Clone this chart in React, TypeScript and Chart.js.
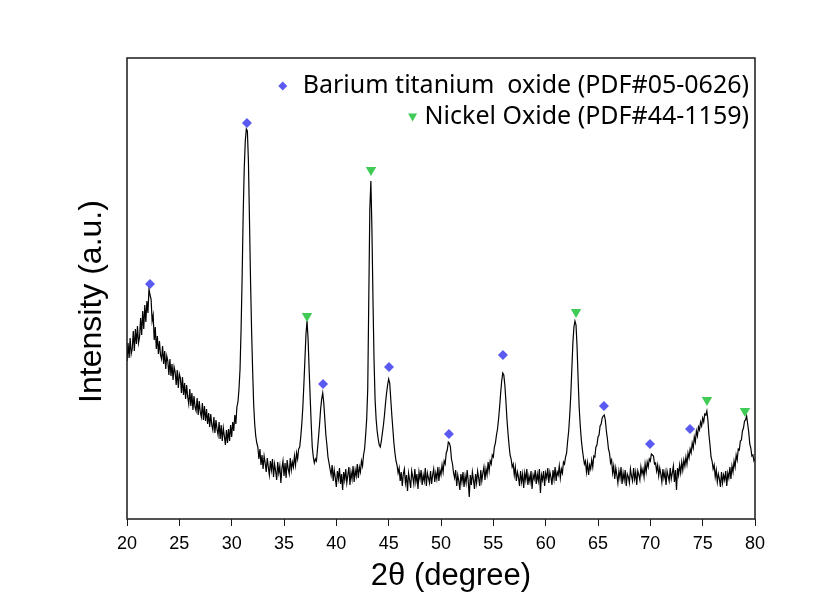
import React, { useEffect, useRef } from "react";
import { Chart, registerables } from "chart.js";

Chart.register(...registerables);

// 2θ grid: 20.0 → 80.0 in 0.1° steps
const ANGLE_START = 20;
const ANGLE_STEP = 0.1;

// Measured intensity (a.u.), one row per degree (x.0 … x.9)
const INTENSITY: number[] = [
  158, 176, 161, 181, 165, 170, 188, 168, 190, 175, // 20
  193, 176, 182, 201, 184, 208, 190, 214, 197, 218, // 21
  206, 230, 224, 220, 198, 204, 179, 192, 170, 183, // 22
  165, 178, 164, 160, 173, 155, 168, 150, 163, 158, // 23
  144, 160, 143, 155, 139, 152, 147, 134, 149, 131, // 24
  145, 141, 126, 142, 124, 136, 120, 134, 122, 115, // 25
  130, 113, 126, 109, 123, 112, 108, 121, 104, 118, // 26
  107, 102, 116, 99, 113, 98, 110, 95, 106, 92, // 27
  105, 94, 89, 102, 86, 99, 90, 84, 97, 80, // 28
  94, 78, 91, 83, 74, 89, 76, 90, 78, 94, // 29
  82, 97, 88, 104, 95, 112, 117, 130, 150, 190, // 30
  242, 305, 350, 378, 390, 388, 358, 300, 240, 190, // 31
  150, 115, 95, 83, 76, 72, 60, 70, 54, 64, // 32
  50, 63, 56, 47, 61, 52, 44, 58, 49, 60, // 33
  42, 55, 48, 39, 57, 46, 53, 36, 51, 58, // 34
  43, 56, 41, 59, 50, 45, 61, 49, 57, 52, // 35
  63, 54, 66, 60, 70, 72, 82, 95, 112, 135, // 36
  160, 185, 198, 180, 150, 122, 95, 72, 62, 56, // 37
  60, 58, 70, 82, 95, 110, 120, 126, 116, 100, // 38
  84, 74, 62, 56, 50, 44, 54, 38, 49, 41, // 39
  32, 48, 40, 51, 35, 45, 29, 47, 39, 50, // 40
  36, 44, 52, 34, 47, 40, 53, 37, 49, 43, // 41
  55, 41, 52, 47, 58, 53, 64, 70, 84, 100, // 42
  130, 220, 310, 338, 290, 220, 160, 120, 100, 88, // 43
  80, 74, 72, 78, 86, 94, 104, 116, 126, 134, // 44
  140, 136, 120, 104, 90, 76, 66, 58, 54, 46, // 45
  51, 38, 47, 33, 45, 50, 36, 44, 28, 46, // 46
  39, 31, 48, 42, 35, 50, 37, 45, 30, 47, // 47
  40, 49, 34, 44, 38, 51, 33, 46, 41, 36, // 48
  48, 35, 44, 50, 37, 46, 40, 52, 38, 49, // 49
  44, 54, 47, 58, 55, 66, 69, 77, 76, 72, // 50
  60, 55, 46, 41, 49, 33, 44, 38, 29, 45, // 51
  37, 47, 32, 43, 36, 49, 38, 22, 44, 34, // 52
  47, 39, 30, 45, 36, 48, 41, 33, 49, 38, // 53
  46, 52, 39, 50, 44, 57, 48, 58, 55, 64, // 54
  62, 72, 76, 84, 90, 100, 112, 126, 138, 146, // 55
  144, 134, 118, 100, 86, 74, 64, 60, 52, 55, // 56
  44, 52, 38, 47, 42, 33, 48, 37, 45, 31, // 57
  46, 39, 50, 34, 43, 37, 48, 30, 44, 40, // 58
  49, 35, 45, 38, 50, 26, 44, 39, 48, 33, // 59
  46, 41, 51, 36, 47, 42, 34, 49, 40, 52, // 60
  38, 47, 44, 53, 41, 50, 46, 57, 55, 62, // 61
  66, 78, 88, 104, 124, 150, 176, 192, 198, 194, // 62
  172, 140, 112, 94, 80, 70, 62, 55, 58, 47, // 63
  56, 44, 54, 50, 59, 52, 63, 62, 72, 74, // 64
  82, 84, 93, 95, 101, 103, 104, 99, 88, 80, // 65
  70, 66, 56, 59, 46, 53, 40, 51, 44, 36, // 66
  48, 41, 52, 35, 46, 39, 49, 33, 45, 42, // 67
  36, 50, 43, 38, 51, 40, 47, 34, 48, 44, // 68
  39, 52, 45, 50, 42, 55, 47, 57, 52, 60, // 69
  58, 65, 64, 63, 55, 56, 48, 54, 43, 51, // 70
  45, 37, 50, 41, 47, 34, 48, 43, 38, 51, // 71
  40, 46, 53, 37, 49, 29, 51, 44, 54, 46, // 72
  57, 49, 59, 53, 62, 55, 66, 61, 70, 66, // 73
  76, 71, 82, 77, 88, 83, 92, 89, 97, 93, // 74
  101, 97, 105, 104, 108, 99, 84, 74, 62, 58, // 75
  50, 54, 42, 49, 37, 45, 40, 32, 47, 36, // 76
  44, 39, 48, 33, 46, 41, 52, 40, 53, 47, // 77
  58, 52, 64, 59, 70, 69, 78, 79, 88, 91, // 78
  98, 99, 103, 95, 87, 75, 71, 63, 64, 58, // 79
  60, // 80
];

// Barium titanium oxide (PDF#05-0626) reflections
const BTO_ANGLES = [22.2, 31.46, 38.73, 45.03, 50.76, 55.92, 65.57, 69.97, 73.79];
const BTO_MARK_Y = [235, 396, 135, 152, 85, 164, 113, 75, 90];

// Nickel Oxide (PDF#44-1159) reflections
const NIO_ANGLES = [37.2, 43.31, 62.9, 75.41, 79.04];
const NIO_MARK_Y = [203, 349, 207, 119, 108];

const X_MIN = 20;
const X_MAX = 80;
const X_STEP = 5;
const Y_MAX = 461;

const X_TITLE = "2θ (degree)";
const Y_TITLE = "Intensity (a.u.)";
const LEGEND_LABELS = [
  "Barium titanium  oxide (PDF#05-0626)",
  "Nickel Oxide (PDF#44-1159)",
];

const BLUE = "#5a5af0";
const GREEN = "#3fcb55";
const FONT = "Arial, 'Liberation Sans', sans-serif";

const framePlugin = {
  id: "frame",
  afterDatasetsDraw(chart: any) {
    const { ctx, chartArea } = chart;
    const { left, top, right, bottom } = chartArea;
    ctx.save();
    ctx.strokeStyle = "#1a1a1a";
    ctx.lineWidth = 1.5;
    ctx.strokeRect(left, top, right - left, bottom - top);
    ctx.restore();
  },
};

// Axis titles (slightly off-centre, as in the original figure)
const titlesPlugin = {
  id: "axisTitles",
  afterDraw(chart: any) {
    const { ctx, chartArea } = chart;
    ctx.save();
    ctx.fillStyle = "#000";
    ctx.textAlign = "center";
    ctx.textBaseline = "middle";
    ctx.font = `31px ${FONT}`;
    ctx.fillText(X_TITLE, (chartArea.left + chartArea.right) / 2 + 10, chartArea.bottom + 57);
    ctx.translate(chartArea.left - 35, (chartArea.top + chartArea.bottom) / 2 + 13);
    ctx.rotate(-Math.PI / 2);
    ctx.font = `32px ${FONT}`;
    ctx.fillText(Y_TITLE, 0, 0);
    ctx.restore();
  },
};

const legendPlugin = {
  id: "customLegend",
  afterDraw(chart: any) {
    const { ctx, chartArea } = chart;
    ctx.save();
    ctx.font = "25px 'Noto Sans', sans-serif";
    ctx.textAlign = "right";
    ctx.textBaseline = "middle";
    const xr = chartArea.right - 6;
    const rows = [
      { text: LEGEND_LABELS[0], y: chartArea.top + 28, color: BLUE, shape: "diamond", gap: 20 },
      { text: LEGEND_LABELS[1], y: chartArea.top + 59, color: GREEN, shape: "tri", gap: 12 },
    ];
    rows.forEach((r) => {
      ctx.fillStyle = "#000";
      ctx.fillText(r.text, xr, r.y);
      const w = ctx.measureText(r.text).width;
      const mx = xr - w - r.gap;
      ctx.fillStyle = r.color;
      ctx.beginPath();
      if (r.shape === "diamond") {
        ctx.moveTo(mx, r.y - 4.5);
        ctx.lineTo(mx + 4.5, r.y);
        ctx.lineTo(mx, r.y + 4.5);
        ctx.lineTo(mx - 4.5, r.y);
      } else {
        ctx.moveTo(mx - 4.5, r.y - 3.5);
        ctx.lineTo(mx + 4.5, r.y - 3.5);
        ctx.lineTo(mx, r.y + 4.5);
      }
      ctx.closePath();
      ctx.fill();
    });
    ctx.restore();
  },
};

export default function App() {
  const canvasRef = useRef<HTMLCanvasElement | null>(null);

  useEffect(() => {
    document.body.style.margin = "0";
    const canvas = canvasRef.current;
    if (!canvas) return;

    const pattern = INTENSITY.map((v, i) => ({ x: ANGLE_START + i * ANGLE_STEP, y: v }));
    const bto = BTO_ANGLES.map((a, i) => ({ x: a, y: BTO_MARK_Y[i] }));
    const nio = NIO_ANGLES.map((a, i) => ({ x: a, y: NIO_MARK_Y[i] }));

    const chart = new Chart(canvas, {
      type: "line",
      data: {
        datasets: [
          {
            label: "Barium titanium oxide (PDF#05-0626)",
            data: bto,
            showLine: false,
            pointStyle: "rectRot",
            pointRadius: 5,
            pointBackgroundColor: BLUE,
            pointBorderColor: BLUE,
            pointBorderWidth: 0,
          } as any,
          {
            label: "Nickel Oxide (PDF#44-1159)",
            data: nio,
            showLine: false,
            pointStyle: "triangle",
            pointRotation: 180,
            pointRadius: 6,
            pointBackgroundColor: GREEN,
            pointBorderColor: GREEN,
            pointBorderWidth: 0,
          } as any,
          {
            label: "XRD",
            data: pattern,
            borderColor: "#000",
            borderWidth: 1.2,
            pointRadius: 0,
            tension: 0,
            fill: false,
          },
        ],
      },
      options: {
        responsive: false,
        animation: false,
        maintainAspectRatio: false,
        layout: { padding: { top: 58, right: 68, left: 0, bottom: 0 } },
        plugins: {
          legend: { display: false },
          tooltip: { enabled: false },
        },
        scales: {
          x: {
            type: "linear",
            min: X_MIN,
            max: X_MAX,
            afterFit: (s: any) => {
              s.height = 86;
            },
            ticks: {
              stepSize: X_STEP,
              color: "#000",
              padding: 7,
              font: { family: FONT, size: 18 },
            },
            grid: {
              display: true,
              drawOnChartArea: false,
              drawTicks: true,
              tickLength: 7,
              color: "#1a1a1a",
              lineWidth: 1,
            },
            border: { display: false },
            title: { display: false, text: X_TITLE },
          },
          y: {
            type: "linear",
            min: 0,
            max: Y_MAX,
            afterFit: (s: any) => {
              s.width = 127;
            },
            ticks: { display: false },
            grid: { display: false },
            border: { display: false },
            title: { display: false, text: Y_TITLE },
          },
        },
      },
      plugins: [framePlugin, titlesPlugin, legendPlugin],
    });

    return () => chart.destroy();
  }, []);

  return (
    <div style={{ width: 823, height: 605, background: "#fff" }}>
      <canvas ref={canvasRef} width={823} height={605} />
    </div>
  );
}
